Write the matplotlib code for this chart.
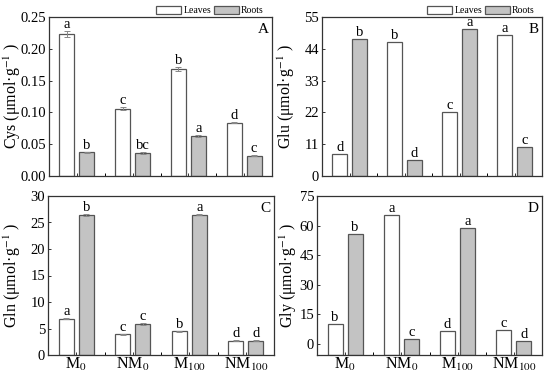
import numpy as np
import matplotlib
matplotlib.use('Agg')
import matplotlib.pyplot as plt

plt.rcParams['font.family'] = ['Liberation Serif', 'DejaVu Serif']
plt.rcParams['mathtext.fontset'] = 'stix'

groups = ['M$_0$', 'NM$_0$', 'M$_{100}$', 'NM$_{100}$']

# Cys
cys_leaves = [0.223, 0.106, 0.168, 0.084]
cys_roots = [0.037, 0.036, 0.063, 0.032]
cys_leaves_err = [0.005, 0.002, 0.003, 0.001]
cys_roots_err = [0.001, 0.001, 0.001, 0.001]
cys_leaves_lbl = ['a', 'c', 'b', 'd']
cys_roots_lbl = ['b', 'bc', 'a', 'c']

# Glu
glu_leaves = [7.5, 46.5, 22.2, 48.7]
glu_roots = [47.4, 5.5, 51.0, 9.9]
glu_leaves_lbl = ['d', 'b', 'c', 'a']
glu_roots_lbl = ['b', 'd', 'a', 'c']

# Gln
gln_leaves = [6.8, 3.9, 4.5, 2.7]
gln_roots = [26.4, 5.8, 26.5, 2.7]
gln_leaves_lbl = ['a', 'c', 'b', 'd']
gln_roots_lbl = ['b', 'c', 'a', 'd']

# Gly
gly_leaves = [10.1, 65.4, 6.4, 7.3]
gly_roots = [55.6, 2.7, 58.7, 1.7]
gly_leaves_lbl = ['b', 'a', 'd', 'c']
gly_roots_lbl = ['b', 'c', 'a', 'd']

W, H = 550, 377
fig = plt.figure(figsize=(5.5, 3.77), dpi=100)


def px_axes(l, t, r, b):
    return fig.add_axes([l / W, 1 - b / H, (r - l) / W, (b - t) / H])


def panel(ax, leaves, roots, l_lbl, r_lbl, ylim, yticks, fmt, ylabel, letter,
          label_x, l_err=None, r_err=None, xlabels=False):
    x = np.arange(len(leaves))
    off = 0.178
    w = 0.27
    base = ylim[0]
    lv = np.array(leaves)
    rv = np.array(roots)
    ax.bar(x - off, lv - base, w, bottom=base, color='white', edgecolor='#555555',
           linewidth=0.9, label='Leaves', zorder=2)
    ax.bar(x + off, rv - base, w, bottom=base, color='#c3c3c3', edgecolor='#555555',
           linewidth=0.9, label='Roots', zorder=2)
    le = np.zeros(len(lv)) if l_err is None else np.array(l_err)
    re = np.zeros(len(rv)) if r_err is None else np.array(r_err)
    if l_err is not None:
        ax.errorbar(x - off, lv, yerr=le, fmt='none', ecolor='#888888', elinewidth=0.7,
                    capsize=2, capthick=0.7, zorder=3)
    if r_err is not None:
        ax.errorbar(x + off, rv, yerr=re, fmt='none', ecolor='#888888', elinewidth=0.7,
                    capsize=2, capthick=0.7, zorder=3)
    for i in range(len(x)):
        ax.annotate(l_lbl[i], (x[i] - off, lv[i] + le[i]), xytext=(0, 0),
                    textcoords='offset points', ha='center', va='bottom', fontsize=10.5)
        ax.annotate(r_lbl[i], (x[i] + off, rv[i] + re[i]), xytext=(0, 0),
                    textcoords='offset points', ha='center', va='bottom', fontsize=10.5)
    ax.set_xlim(-0.5, 3.5)
    ax.set_ylim(*ylim)
    ax.set_yticks(yticks)
    ax.set_yticklabels([fmt.format(v) for v in yticks])
    ax.set_xticks(x)
    ax.set_xticks(x[:-1] + 0.5, minor=True)
    if xlabels:
        ax.set_xticklabels(groups, fontsize=11.5)
    else:
        ax.set_xticklabels([])
    ax.tick_params(axis='y', direction='in', length=2, width=0.7, labelsize=10.5,
                   colors='#333333', labelcolor='black', pad=2)
    ax.tick_params(axis='x', direction='in', length=2, width=0.7,
                   colors='#333333', labelcolor='black', pad=1)
    ax.tick_params(axis='x', which='minor', direction='in', length=2, width=0.7)
    for s in ax.spines.values():
        s.set_linewidth(0.9)
        s.set_color('#333333')
    ax.set_ylabel(ylabel, fontsize=11.5, va='center')
    # place label centre at a pixel column of the figure
    bb = ax.get_position()
    ax.yaxis.set_label_coords((label_x / W - bb.x0) / bb.width, 0.5)
    ax.text(0.985, 0.96, letter, transform=ax.transAxes, ha='right', va='top',
            fontsize=11)


axA = px_axes(49, 17, 272, 176)
panel(axA, cys_leaves, cys_roots, cys_leaves_lbl, cys_roots_lbl, (0, 0.25),
      [0, 0.05, 0.10, 0.15, 0.20, 0.25], '{:.2f}', 'Cys (μmol·g$^{-1}$ )', 'A',
      12, cys_leaves_err, cys_roots_err)

axB = px_axes(322, 17, 542, 176)
panel(axB, glu_leaves, glu_roots, glu_leaves_lbl, glu_roots_lbl, (0, 55),
      [0, 11, 22, 33, 44, 55], '{:g}', 'Glu (μmol·g$^{-1}$ )', 'B', 286)

axC = px_axes(48, 196, 274, 355)
panel(axC, gln_leaves, gln_roots, gln_leaves_lbl, gln_roots_lbl, (0, 30),
      [0, 5, 10, 15, 20, 25, 30], '{:g}', 'Gln (μmol·g$^{-1}$ )', 'C',
      12, [0.1] * 4, [0.15] * 4, xlabels=True)

axD = px_axes(317, 196, 542, 355)
panel(axD, gly_leaves, gly_roots, gly_leaves_lbl, gly_roots_lbl, (-5.6, 75),
      [0, 15, 30, 45, 60, 75], '{:g}', 'Gly (μmol·g$^{-1}$ )', 'D', 288,
      xlabels=True)

for ax, cx in [(axA, 210), (axB, 481)]:
    ax.legend(loc='center', bbox_to_anchor=(cx / W, 1 - 10.5 / H),
              bbox_transform=fig.transFigure, ncol=2, frameon=False, fontsize=7,
              handlelength=2.6, handleheight=1.0, columnspacing=0.3,
              handletextpad=0.2, borderpad=0)

fig.savefig('out.png', dpi=100)
